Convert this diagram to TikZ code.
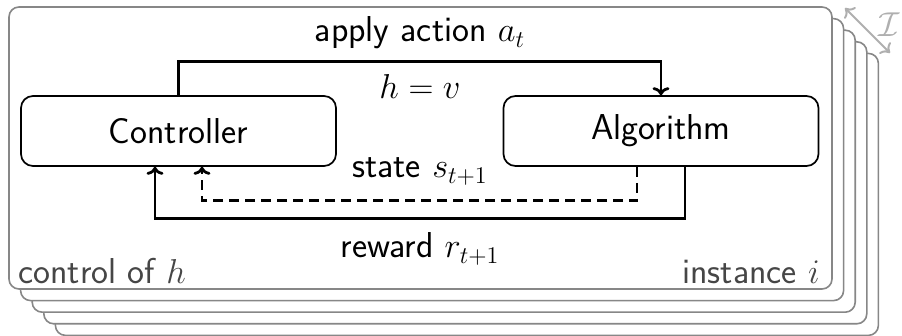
\documentclass[tikz,border=0pt]{standalone}
\usetikzlibrary{arrows.meta}
\definecolor{framegray}{RGB}{135,135,135}
\definecolor{labelgray}{RGB}{70,70,70}
\definecolor{lightg}{RGB}{175,175,175}
\begin{document}
\begin{tikzpicture}[x=0.5pt,y=-0.5pt,
  font=\sffamily\fontsize{18}{22}\selectfont,
  frame/.style={draw=framegray,line width=0.8pt,rounded corners=5pt,fill=white},
  box/.style={draw,line width=0.85pt,rounded corners=6pt,minimum width=157.5pt,minimum height=35pt,inner sep=0pt},
  arr/.style={line width=1.4pt,-{To[length=4pt,width=8.5pt]}},
  dsh/.style={dash pattern=on 5pt off 3pt},
  lbl/.style={anchor=base,inner sep=0pt}]
\useasboundingbox (0,0) rectangle (902,336);
\foreach \k in {4,3,2,1,0}{
  \draw[frame] ({9+11.6*\k},{7+11.6*\k}) rectangle ({832+11.6*\k},{289+11.6*\k});
}
\node[box] (ctrl) at (178.5,131) {Controller};
\node[box] (alg) at (661,131) {Algorithm};
\draw[arr] (ctrl.north) -- ++(0,-34) -| (alg.north);
\draw[arr] ([xshift=12pt]alg.south) -- ++(0,52) -| ([xshift=-11.75pt]ctrl.south);
\draw[arr,dsh] ([xshift=-12pt]alg.south) -- ++(0,34) -| ([xshift=11.75pt]ctrl.south);
\node[lbl] (act) at (420,42) {apply action $a_t$};
\node[lbl] (hv) at (420,99) {$h=v$};
\node[lbl] (st) at (420,178) {state $s_{t+1}$};
\node[lbl] (rw) at (420,258) {reward $r_{t+1}$};
\node[anchor=base west,inner sep=0pt,text=labelgray] (ctl) at (18,284) {control of $h$};
\node[anchor=base east,inner sep=0pt,text=labelgray] (inst) at (820,284) {instance $i$};
\coordinate (i1) at (845,8);
\coordinate (i2) at (890,53);
\draw[lightg,line width=1pt,{To[length=4pt,width=8pt]}-{To[length=4pt,width=8pt]}] (i1) -- (i2);
\node[text=lightg,inner sep=0pt] (I) at (889,25) {$\mathcal{I}$};
\end{tikzpicture}
\end{document}
